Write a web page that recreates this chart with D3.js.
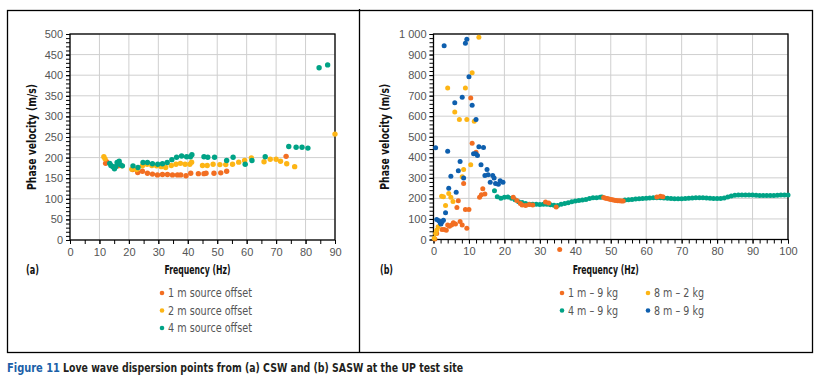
<!DOCTYPE html>
<html lang="en">
  <head>
    <meta charset="UTF-8" />
    <title>Love wave dispersion</title>
    <style>
      body { margin: 0; background: #fff; }
      text { font-family: "DejaVu Sans Condensed", "Liberation Sans", sans-serif; }
      .tick text { font-family: "Liberation Sans", Arial, sans-serif; font-size: 11px; fill: #555; }
    </style>
  </head>
  <body>
    <div id="chart"></div>
    <script src="https://cdn.jsdelivr.net/npm/d3@7"></script>
    <script>
      // (a) CSW - [frequency Hz, phase velocity m/s]
      var csw1m = [[12.1,186],[12.4,190],[16.4,180],[21.3,171],[23,164],[24.6,167],[26.3,162],[28,160],
        [29.7,158],[31.4,159],[33.1,159],[34.8,158],[36.5,158],[37.6,158],[39.4,156],[41,162],[43.6,161],
        [45.5,161],[46.2,162],[48.9,162],[51.2,163],[53.2,167],[73.4,203]];
      var csw2m = [[11.5,202],[11.9,197],[17.6,180],[21,172],[22.6,171],[24.6,180],[26.2,184],[27.8,181],
        [29.4,180],[31,178],[32.5,176],[34.4,181],[36,184],[37.5,186],[39.1,184],[40.7,184],[41.3,189],
        [45,181],[46.6,181],[48.6,184],[50.9,183],[52.9,183],[55.2,184],[57.3,189],[59.3,193],[61.6,199],
        [65.9,190],[68,196],[70,196],[71.5,191],[73.6,185],[76.3,178],[90,257]];
      var csw4m = [[13.5,186],[13.9,181],[14.6,178],[15.1,173],[15.5,178],[16,188],[16.7,191],[17.1,183],
        [17.8,180],[21.4,180],[23.1,176],[24.8,188],[26.3,188],[28,185],[29.8,184],[31.4,185],[33,188],
        [34.6,195],[36.2,201],[37.9,204],[39.6,202],[40.9,202],[41.4,207],[45.5,202],[46.8,201],[49.1,201],
        [53.2,193],[55.4,201],[59.5,184],[61.8,193],[66.3,202],[74.3,227],[76.8,225],[78.8,225],[80.8,223],
        [84.6,418],[87.5,425]];

      // (b) SASW
      var sasw1m9kg = [[0.4,3],[0.9,29],[2.4,49],[3,49],[3.6,45],[4,71],[4.5,65],[5.1,71],[5.6,81],[6.2,75],
        [6.6,156],[7,188],[7.5,88],[8.1,71],[8.5,273],[9,146],[9.4,55],[10,146],[10.5,688],[10.9,468],
        [12,425],[13,205],[13.5,218],[13.9,247],[14.5,221],[22.5,205],[23.5,190],[24.5,175],[25,168],
        [26,166],[27,170],[28,168],[31.6,183],[32.5,178],[34.6,158],[35.6,-49],
        [48,204],[48.5,201],[49,199],[49.5,197],[50,195],[50.5,193],[51,191],[51.5,190],[52,188],[52.5,188],
        [53,187],[53.5,187],[63,207],[64,211],[64.7,208]];
      var sasw8m2kg = [[0.2,6],[0.6,29],[0.9,45],[1.3,62],[2.3,211],[2.8,208],[3.4,166],[4,737],[4.3,224],
        [4.9,205],[5.5,185],[6,620],[7.3,584],[8.1,305],[8.5,341],[9,737],[9.4,584],[10.5,364],[10.9,812],
        [11.5,575],[12.8,984]];
      var sasw4m9kg = [[17.2,237],[18,208],[19,201],[20,206],[21,207],[22,201],[23,193],[24,184],[25,180],
        [26,175],[27,172],[28,172],[29,171],[30,170],[31,171],[32,172],[33,169],[34,167],[35,166],[36,171],
        [37,175],[38,179],[39,184],[40,187],[41,190],[42,192],[43,195],[44,199],[45,203],[46,203],[47,205],
        [47.5,207],[54,192],[55,193],[56,195],[57,197],[58,198],[59,199],[60,201],[61,202],[62,203],[63,203],
        [64,203],[65,202],[66,201],[67,199],[68,198],[69,198],[70,198],[71,200],[72,201],[73,202],[74,203],
        [75,203],[76,203],[77,202],[78,201],[79,200],[80,200],[81,199],[82,202],[83,207],[84,212],[85,215],
        [86,217],[87,217],[88,217],[89,216],[90,216],[91,215],[92,214],[93,214],[94,214],[95,214],[96,214],
        [97,215],[98,216],[99,216],[100,216]];
      var sasw8m9kg = [[0.6,446],[0.9,97],[1.5,91],[1.9,81],[2.1,75],[2.4,86],[2.8,94],[3,943],[3.4,130],
        [4,429],[4.3,250],[4.9,308],[6,666],[6.4,230],[7,334],[7.5,380],[8.1,692],[8.5,299],[9,955],
        [9.4,974],[10,792],[10.9,653],[11.3,417],[11.9,417],[12,584],[12.4,409],[12.8,451],[13.4,364],
        [14.1,448],[14.5,312],[15.1,341],[15.4,315],[16,279],[16.7,312],[17.1,299],[17.5,273],[18.3,269],
        [18.8,286],[19.6,279]];

      var labelsA = ["1 m source offset", "2 m source offset", "4 m source offset"];
      var labelsB = ["1 m – 9 kg", "8 m – 2 kg", "4 m – 9 kg", "8 m – 9 kg"];

      var orange = "#f26e22", yellow = "#fdb515", green = "#00a386", blue = "#0e5fae";

      var width = 823, height = 380;
      var svg = d3.select("#chart").append("svg")
                  .attr("width", width).attr("height", height);

      // squeeze text to the narrow width of the original typeface
      function fit(sel, len) {
        sel.attr("textLength", len).attr("lengthAdjust", "spacingAndGlyphs");
        return sel;
      }

      // outer frame and divider
      svg.append("rect").attr("x", 7.5).attr("y", 10.5).attr("width", 805).attr("height", 342)
         .attr("fill", "none").attr("stroke", "#000").attr("stroke-width", 1.3);
      svg.append("line").attr("x1", 359.5).attr("x2", 359.5).attr("y1", 9).attr("y2", 353)
         .attr("stroke", "#000").attr("stroke-width", 1.3);

      function drawPanel(opt) {
        var x = d3.scaleLinear().domain(opt.xDomain).range([opt.left, opt.right]);
        var y = d3.scaleLinear().domain(opt.yDomain).range([opt.bottom, opt.top]);
        var g = svg.append("g");

        // gridlines
        g.selectAll(".gx").data(d3.range(opt.xDomain[0], opt.xDomain[1] + 0.1, opt.xMajor)).enter()
         .append("line").attr("x1", d => x(d)).attr("x2", d => x(d))
         .attr("y1", opt.top).attr("y2", opt.bottom).attr("stroke", "#cfcfcf").attr("stroke-width", 1);
        g.selectAll(".gy").data(d3.range(opt.yDomain[0], opt.yDomain[1] + 0.1, opt.yMajor)).enter()
         .append("line").attr("y1", d => y(d)).attr("y2", d => y(d))
         .attr("x1", opt.left).attr("x2", opt.right).attr("stroke", "#cfcfcf").attr("stroke-width", 1);

        // minor ticks
        g.append("g").attr("transform", "translate(0," + opt.bottom + ")")
         .call(d3.axisBottom(x).tickValues(d3.range(opt.xDomain[0], opt.xDomain[1] + 0.1, opt.xMinor))
               .tickSize(4).tickFormat(""))
         .call(a => a.select(".domain").remove());
        g.append("g").attr("transform", "translate(" + opt.left + ",0)")
         .call(d3.axisLeft(y).tickValues(d3.range(opt.yDomain[0], opt.yDomain[1] + 0.1, opt.yMinor))
               .tickSize(4).tickFormat(""))
         .call(a => a.select(".domain").remove());

        // labelled axes
        g.append("g").attr("transform", "translate(0," + opt.bottom + ")")
         .call(d3.axisBottom(x).tickValues(d3.range(opt.xDomain[0], opt.xDomain[1] + 0.1, opt.xMajor))
               .tickSize(4).tickPadding(4).tickSizeOuter(0))
         .call(a => a.select(".domain").remove());
        g.append("g").attr("transform", "translate(" + opt.left + ",0)")
         .call(d3.axisLeft(y).tickValues(d3.range(opt.yDomain[0], opt.yDomain[1] + 0.1, opt.yMajor))
               .tickSize(4).tickPadding(3).tickSizeOuter(0).tickFormat(opt.yFormat))
         .call(a => a.select(".domain").remove());
        g.selectAll(".tick line").attr("stroke", "#000");

        // plot frame
        g.append("rect").attr("x", opt.left).attr("y", opt.top)
         .attr("width", opt.right - opt.left).attr("height", opt.bottom - opt.top)
         .attr("fill", "none").attr("stroke", "#000").attr("stroke-width", 1.3);

        // points
        opt.series.forEach(function(s) {
          g.append("g").selectAll("circle").data(s.data).enter().append("circle")
           .attr("cx", d => x(d[0])).attr("cy", d => y(d[1]))
           .attr("r", opt.r).attr("fill", s.color);
        });

        // titles
        fit(svg.append("text").attr("transform", "translate(" + opt.yTitleX + "," + ((opt.top + opt.bottom) / 2) + ") rotate(-90)")
           .attr("text-anchor", "middle").attr("font-size", "12.5px").attr("font-weight", "bold")
           .attr("fill", "#111").text("Phase velocity (m/s)"), 106);
        fit(svg.append("text").attr("x", (opt.left + opt.right) / 2 - 5).attr("y", 274)
           .attr("text-anchor", "middle").attr("font-size", "12.5px").attr("font-weight", "bold")
           .attr("fill", "#111").text("Frequency (Hz)"), 66);
        fit(svg.append("text").attr("x", opt.tag[0]).attr("y", 274)
           .attr("font-size", "12.5px").attr("font-weight", "bold").attr("fill", "#111").text(opt.tag[1]), 13);
        return { x: x, y: y };
      }

      drawPanel({
        left: 70, right: 335, top: 34, bottom: 240,
        xDomain: [0, 90], yDomain: [0, 500], xMajor: 10, xMinor: 5, yMajor: 50, yMinor: 10,
        yFormat: d => d, r: 2.7, yTitleX: 36, tag: [26, "(a)"],
        series: [{ data: csw1m, color: orange }, { data: csw2m, color: yellow }, { data: csw4m, color: green }]
      });

      drawPanel({
        left: 433.5, right: 788, top: 34, bottom: 239.5,
        xDomain: [0, 100], yDomain: [0, 1000], xMajor: 10, xMinor: 2, yMajor: 100, yMinor: 20,
        yFormat: d => d === 1000 ? "1 000" : d, r: 2.5, yTitleX: 389, tag: [380, "(b)"],
        series: [{ data: sasw4m9kg, color: green }, { data: sasw1m9kg, color: orange },
                 { data: sasw8m2kg, color: yellow }, { data: sasw8m9kg, color: blue }]
      });

      // legends
      var colorsA = [orange, yellow, green];
      labelsA.forEach(function(t, i) {
        var yy = 293 + i * 17.5;
        svg.append("circle").attr("cx", 162).attr("cy", yy).attr("r", 2.3).attr("fill", colorsA[i]);
        fit(svg.append("text").attr("x", 168).attr("y", yy + 4).attr("font-size", "12.5px")
           .attr("fill", "#555").text(t), 84);
      });
      var colorsB = [orange, yellow, green, blue];
      labelsB.forEach(function(t, i) {
        var cx = i % 2 === 0 ? 562 : 648;
        var yy = 293 + Math.floor(i / 2) * 17.5;
        svg.append("circle").attr("cx", cx).attr("cy", yy).attr("r", 2.3).attr("fill", colorsB[i]);
        fit(svg.append("text").attr("x", cx + 6).attr("y", yy + 4).attr("font-size", "12.5px")
           .attr("fill", "#555").text(t), 50);
      });

      // caption
      var cap = svg.append("text").attr("y", 372).attr("font-size", "12.5px").attr("font-weight", "bold");
      fit(cap.append("tspan").attr("x", 7).attr("fill", "#1b5fa8").text("Figure 11"), 53);
      fit(cap.append("tspan").attr("x", 63).attr("fill", "#231f20")
         .text("Love wave dispersion points from (a) CSW and (b) SASW at the UP test site"), 400);
    </script>
  </body>
</html>
